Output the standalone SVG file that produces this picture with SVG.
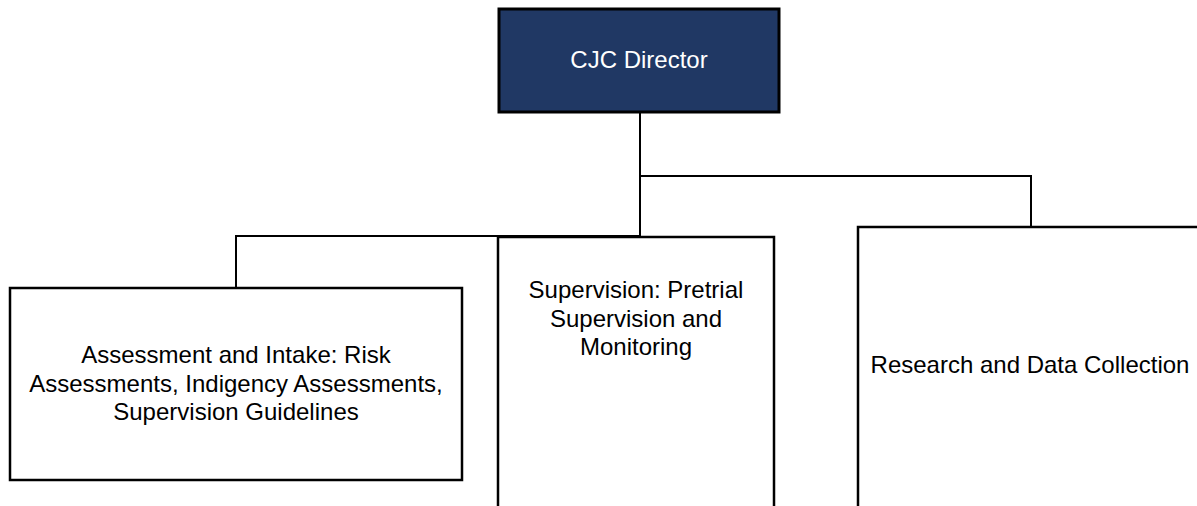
<svg xmlns="http://www.w3.org/2000/svg" width="1197" height="506" viewBox="0 0 1197 506">
  <style>
    .box { fill: #ffffff; stroke: #000000; stroke-width: 2.5; }
    .head { fill: #203864; stroke: #000000; stroke-width: 3; }
    .link { fill: none; stroke: #000000; stroke-width: 2; }
    .lbl { font-family: "Liberation Sans", Arial, sans-serif; font-size: 24px; fill: #000000; text-anchor: middle; }
    .lbl-w { fill: #ffffff; }
  </style>
  <rect width="1197" height="506" fill="#ffffff"/>

  <!-- reporting lines -->
  <g id="connectors">
    <path class="link" d="M640 112 V237"/>
    <path class="link" d="M236 288 V236 H640"/>
    <path class="link" d="M640 176 H1031 V227"/>
  </g>

  <g id="director">
    <rect class="head" x="499" y="9" width="280" height="103"/>
    <text class="lbl lbl-w" x="639" y="68">CJC Director</text>
  </g>

  <g id="assessment">
    <rect class="box" x="10" y="288" width="452" height="192"/>
    <text class="lbl" x="236" y="363">Assessment and Intake: Risk</text>
    <text class="lbl" x="236" y="392">Assessments, Indigency Assessments,</text>
    <text class="lbl" x="236" y="420">Supervision Guidelines</text>
  </g>

  <g id="supervision">
    <rect class="box" x="498" y="237" width="276" height="290"/>
    <text class="lbl" x="636" y="298">Supervision: Pretrial</text>
    <text class="lbl" x="636" y="327">Supervision and</text>
    <text class="lbl" x="636" y="355">Monitoring</text>
  </g>

  <g id="research">
    <rect class="box" x="858" y="227" width="360" height="300"/>
    <text class="lbl" x="1030" y="373">Research and Data Collection</text>
  </g>
</svg>
